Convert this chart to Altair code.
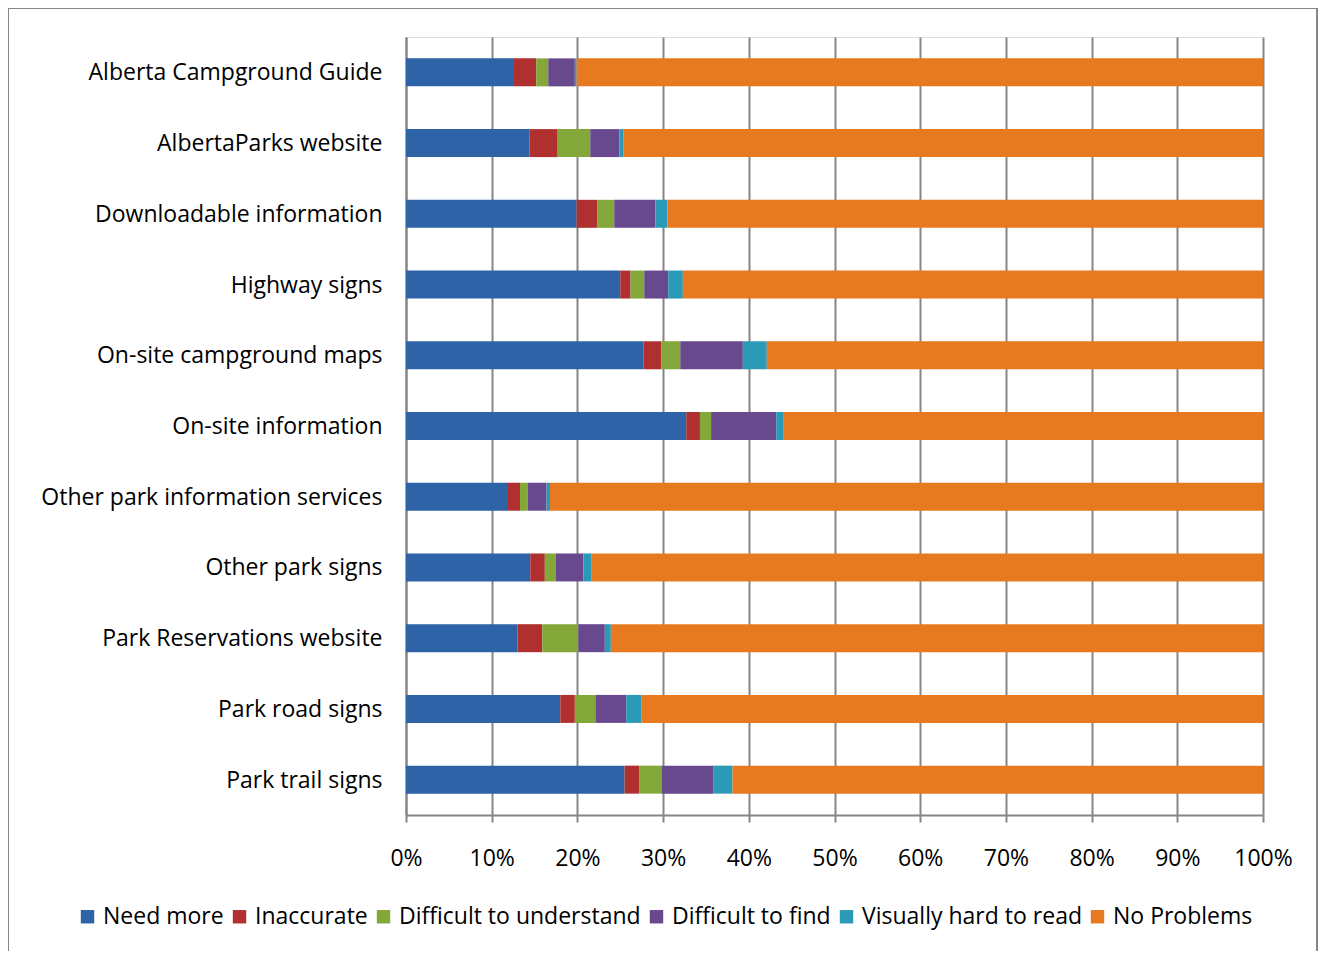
import altair as alt
import pandas as pd

categories = [
    "Alberta Campground Guide",
    "AlbertaParks website",
    "Downloadable information",
    "Highway signs",
    "On-site campground maps",
    "On-site information",
    "Other park information services",
    "Other park signs",
    "Park Reservations website",
    "Park road signs",
    "Park trail signs",
]
series = ["Need more", "Inaccurate", "Difficult to understand",
          "Difficult to find", "Visually hard to read", "No Problems"]
need_more = [12.6, 14.4, 19.9, 25.0, 27.7, 32.7, 11.9, 14.5, 13.0, 18.0, 25.5]
inaccurate = [2.6, 3.3, 2.4, 1.2, 2.1, 1.6, 1.4, 1.7, 2.9, 1.7, 1.7]
diff_understand = [1.4, 3.8, 2.0, 1.6, 2.2, 1.3, 0.9, 1.3, 4.2, 2.4, 2.6]
diff_find = [3.1, 3.4, 4.8, 2.8, 7.3, 7.6, 2.2, 3.2, 3.1, 3.6, 6.1]
visually_hard = [0.2, 0.5, 1.4, 1.7, 2.8, 0.8, 0.4, 0.9, 0.7, 1.8, 2.2]
no_problems = [80.1, 74.6, 69.5, 67.7, 57.9, 56.0, 83.2, 78.4, 76.1, 72.5, 61.9]
colors = ["#2f63a7", "#b0302f", "#83a738", "#69498e", "#2a9ab6", "#e77a20"]

cols = [need_more, inaccurate, diff_understand, diff_find, visually_hard, no_problems]
rows = []
for si, (s, vals) in enumerate(zip(series, cols)):
    for c, v in zip(categories, vals):
        rows.append({"category": c, "series": s, "value": v, "order": si})
df = pd.DataFrame(rows)

FONT = "Open Sans"
FS = 23

bars = alt.Chart(df).mark_bar(size=28).encode(
    y=alt.Y("category:N", sort=categories, title=None,
            scale=alt.Scale(paddingInner=0.6, paddingOuter=0.3),
            axis=alt.Axis(labelFontSize=FS, labelFont=FONT, labelColor="#000000",
                          labelPadding=24, ticks=False, domainColor="#868686",
                          domainWidth=2, grid=False, labelLimit=400, labelOffset=1)),
    x=alt.X("value:Q", stack="normalize", title=None,
            scale=alt.Scale(domain=[0, 1]),
            axis=alt.Axis(format="%", values=[i / 10 for i in range(11)],
                          labelFontSize=FS, labelFont=FONT, labelColor="#000000",
                          labelPadding=25, tickSize=7, tickColor="#868686",
                          labelFlush=False, labelOverlap=False,
                          tickWidth=2, domainColor="#868686", domainWidth=2,
                          grid=True, gridColor="#868686", gridWidth=2)),
    color=alt.Color("series:N", sort=series,
                    scale=alt.Scale(domain=series, range=colors),
                    legend=alt.Legend(title=None, orient="none", direction="horizontal",
                                      legendX=-330, legendY=868,
                                      symbolType="square", symbolSize=180,
                                      symbolStrokeWidth=0,
                                      labelFontSize=FS, labelFont=FONT,
                                      labelColor="#000000", symbolOffset=0,
                                      labelOffset=4, columnPadding=4,
                                      labelLimit=400)),
    order=alt.Order("order:Q"),
)

frame = alt.Chart(pd.DataFrame({"a": [0]})).mark_rect(
    fill=None, stroke="#868686", strokeWidth=2
).encode(
    x=alt.value(-398), x2=alt.value(911),
    y=alt.value(-29), y2=alt.value(960),
)

chart = alt.layer(frame, bars).properties(
    width=857, height=778,
    autosize=alt.AutoSizeParams(type="none"),
    padding={"left": 398, "top": 29, "right": 56, "bottom": 136},
).configure_view(stroke=None).configure(background="white")

chart.save("out.html", embed_options={"renderer": "svg", "actions": False})
